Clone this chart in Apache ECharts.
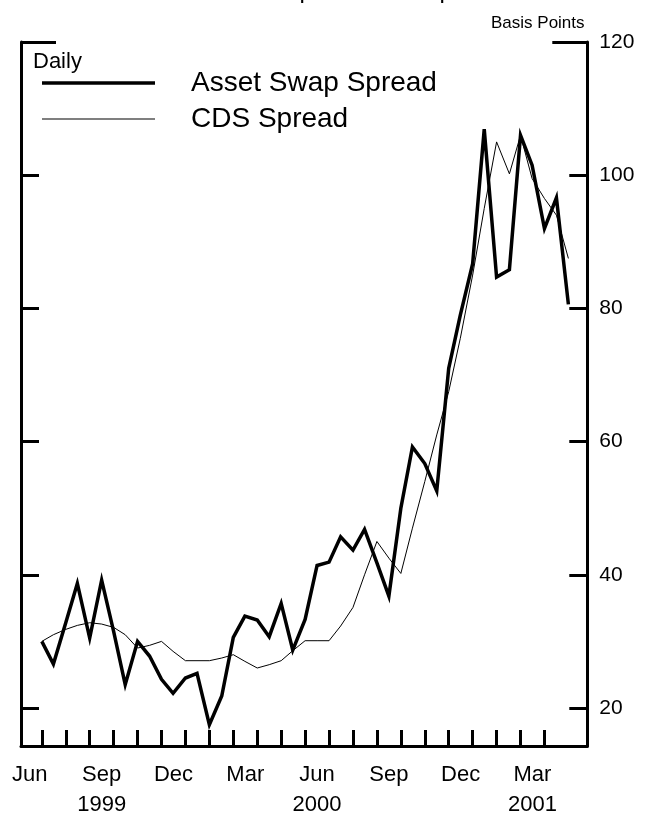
<!DOCTYPE html>
<html>
<head>
<meta charset="utf-8">
<script src="https://cdn.jsdelivr.net/npm/echarts@6/dist/echarts.min.js"></script>
<style>
html,body{margin:0;padding:0;background:#fff;}
#chart{width:660px;height:822px;}
</style>
</head>
<body>
<div id="chart"></div>
<script>
// ---- data ----
var dates = [
  "1999-07-01","1999-07-16","1999-08-01","1999-08-16","1999-09-01","1999-09-16",
  "1999-10-01","1999-10-16","1999-11-01","1999-11-16","1999-12-01","1999-12-16",
  "2000-01-01","2000-01-16","2000-02-01","2000-02-16","2000-03-01","2000-03-16",
  "2000-04-01","2000-04-16","2000-05-01","2000-05-16","2000-06-01","2000-06-16",
  "2000-07-01","2000-07-16","2000-08-01","2000-08-16","2000-09-01","2000-09-16",
  "2000-10-01","2000-10-16","2000-11-01","2000-11-16","2000-12-01","2000-12-16",
  "2001-01-01","2001-01-16","2001-02-01","2001-02-16","2001-03-01","2001-03-16",
  "2001-04-01","2001-04-16","2001-05-01"
];
var assetSwapSpread = [
  30.0, 26.6, 32.8, 38.7, 30.5, 39.2, 31.5, 23.5, 30.0, 27.8, 24.3, 22.2,
  24.5, 25.2, 17.5, 21.8, 30.6, 33.8, 33.2, 30.7, 35.7, 28.7, 33.3, 41.4,
  41.9, 45.7, 43.7, 46.8, 41.8, 36.8, 50.0, 59.2, 56.7, 52.6, 71.0, 79.0,
  86.7, 106.9, 84.7, 85.8, 106.0, 101.5, 92.0, 96.6, 80.6
];
var cdsSpread = [
  30.0, 31.0, 31.8, 32.4, 32.8, 32.6, 32.1, 31.0, 29.0, 29.4, 30.0, 28.5,
  27.1, 27.1, 27.1, 27.5, 28.0, 27.0, 26.0, 26.5, 27.1, 28.6, 30.1, 30.1,
  30.1, 32.3, 35.1, 40.0, 45.0, 42.5, 40.2, 47.0, 54.0, 61.0, 67.5, 75.5,
  85.0, 95.0, 105.0, 100.2, 106.0, 99.5, 96.5, 94.0, 87.5
];
var yTicks = [20, 40, 60, 80, 100, 120];
var monthLabels = ["Jun", "Sep", "Dec", "Mar", "Jun", "Sep", "Dec", "Mar"];
var yearLabels  = ["", "1999", "", "", "2000", "", "", "2001"];
var monthLabelPos = [0.5, 3.5, 6.5, 9.5, 12.5, 15.5, 18.5, 21.5]; // months since 1 Jun 1999
var monthTickPos = [1,2,3,4,5,6,7,8,9,10,11,12,13,14,15,16,17,18,19,20,21,22];

// months since 1 Jun 1999
function toMonth(s) {
  var p = s.split("-").map(Number);
  var dim = new Date(p[0], p[1], 0).getDate();
  return (p[0] - 1999) * 12 + (p[1] - 6) + (p[2] - 1) / dim;
}
function pairs(vals) {
  return vals.map(function (v, i) { return [toMonth(dates[i]), v]; });
}

var FONT = "Liberation Sans, Arial, sans-serif";
var chart = echarts.init(document.getElementById("chart"), null, {renderer: "canvas"});

var yBase = {
  type: "value", min: 14.29, max: 120, splitLine: {show: false}
};
var legendText = {fontFamily: FONT, fontSize: 28, color: "#000", lineHeight: 28, padding: [0, 0, 0, 31]};
chart.setOption({
  animation: false,
  backgroundColor: "#fff",
  title: [
    {text: "Asset Swap and CDS Spreads", left: 181, top: -26,
     textStyle: {fontFamily: FONT, fontSize: 24, fontWeight: "normal", color: "#000"}},
    {text: "Basis Points", left: 486, top: 10,
     textStyle: {fontFamily: FONT, fontSize: 17, fontWeight: "normal", color: "#000"}},
    {text: "Daily", left: 28, top: 46,
     textStyle: {fontFamily: FONT, fontSize: 22, fontWeight: "normal", color: "#000"}}
  ],
  legend: [
    {left: 42, top: 69, padding: 0, itemWidth: 113, itemHeight: 3.5, icon: "rect",
     textStyle: legendText, data: ["Asset Swap Spread"]},
    {left: 42, top: 105, padding: 0, itemWidth: 113, itemHeight: 1.2, icon: "rect",
     textStyle: legendText, data: ["CDS Spread"]}
  ],
  grid: {left: 21, right: 72.7, top: 42, bottom: 76, containLabel: false},
  xAxis: {
    type: "value", min: 0.13, max: 23.79,
    splitLine: {show: false},
    axisLine: {lineStyle: {color: "#000", width: 3}},
    axisTick: {show: true, inside: true, length: 16, lineStyle: {color: "#000", width: 3}, customValues: monthTickPos},
    axisLabel: {
      customValues: monthLabelPos, margin: 14, color: "#000", fontFamily: FONT, fontSize: 22, lineHeight: 30,
      formatter: function (v) {
        var best = 0;
        for (var i = 0; i < monthLabelPos.length; i++) {
          if (Math.abs(monthLabelPos[i] - v) < Math.abs(monthLabelPos[best] - v)) best = i;
        }
        return yearLabels[best] ? monthLabels[best] + "\n" + yearLabels[best] : monthLabels[best];
      }
    }
  },
  yAxis: [
    Object.assign({}, yBase, {
      position: "left",
      axisLine: {show: true, lineStyle: {color: "#000", width: 3}},
      axisTick: {show: true, inside: true, length: 18, lineStyle: {color: "#000", width: 3}, customValues: yTicks.slice(0, 5)},
      axisLabel: {show: false}
    }),
    Object.assign({}, yBase, {
      position: "right",
      axisLine: {show: true, lineStyle: {color: "#000", width: 3}},
      axisTick: {show: true, inside: true, length: 18, lineStyle: {color: "#000", width: 3}, customValues: yTicks.slice(0, 5)},
      axisLabel: {show: true, customValues: yTicks, margin: 12, color: "#000", fontFamily: FONT, fontSize: 21}
    }),
    Object.assign({}, yBase, {
      position: "left",
      axisLine: {show: false},
      axisTick: {show: true, inside: true, length: 35, lineStyle: {color: "#000", width: 3}, customValues: [120]},
      axisLabel: {show: false}
    }),
    Object.assign({}, yBase, {
      position: "right",
      axisLine: {show: false},
      axisTick: {show: true, inside: true, length: 35, lineStyle: {color: "#000", width: 3}, customValues: [120]},
      axisLabel: {show: false}
    })
  ],
  series: [
    {name: "Asset Swap Spread", type: "line", yAxisIndex: 0, symbol: "none", clip: false,
     lineStyle: {color: "#000", width: 3.5, join: "miter"}, itemStyle: {color: "#000"},
     data: pairs(assetSwapSpread)},
    {name: "CDS Spread", type: "line", yAxisIndex: 0, symbol: "none", clip: false,
     lineStyle: {color: "#000", width: 1}, itemStyle: {color: "#000"},
     data: pairs(cdsSpread)}
  ]
});
</script>
</body>
</html>
